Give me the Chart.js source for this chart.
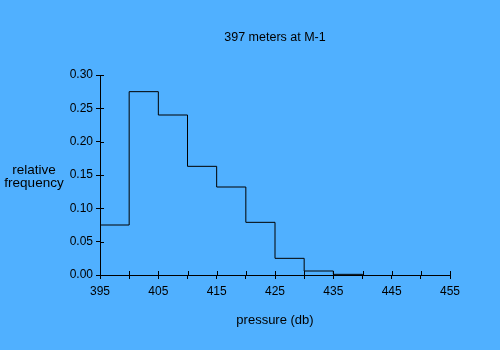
<!DOCTYPE html>
<html>
<head>
<meta charset="utf-8">
<script src="https://cdn.jsdelivr.net/npm/chart.js@4"></script>
<style>
  html, body { margin: 0; padding: 0; background: #50b0ff; }
  #wrap { width: 500px; height: 350px; }
</style>
</head>
<body>
<div id="wrap"><canvas id="histChart" width="500" height="350"></canvas></div>
<script>
// histogram bins (left edges, width 5 db) and relative frequency of each bin
const binEdges = [395, 400, 405, 410, 415, 420, 425, 430, 435, 440];
const relFreq = [0.075, 0.275, 0.24, 0.163, 0.132, 0.079, 0.025, 0.006, 0.001];
const xLabels = [395, 405, 415, 425, 435, 445, 455];
const yTicks = [0, 0.05, 0.10, 0.15, 0.20, 0.25, 0.30];

const chartTitle = '397 meters at M-1';
const xTitle = 'pressure (db)';
const yTitle = ['relative', 'frequency'];

const SANS = '"Liberation Sans", Arial, sans-serif';

// step outline: one point per bin edge, last edge drops back to zero
const stepPoints = binEdges.map((x, i) => ({ x: x, y: i < relFreq.length ? relFreq[i] : 0 }));

// ticks cross the axis: Chart.js draws the outer half, this adds the inner half + texts
const extras = {
  id: 'extras',
  afterDraw(c) {
    const ctx = c.ctx;
    const a = c.chartArea;
    const xs = c.scales.x, ys = c.scales.y;
    ctx.save();
    ctx.strokeStyle = '#000';
    ctx.lineWidth = 1;
    ctx.beginPath();
    xs.ticks.forEach(t => {
      const px = Math.round(xs.getPixelForValue(t.value)) + 0.5;
      ctx.moveTo(px, a.bottom - 4);
      ctx.lineTo(px, a.bottom);
    });
    ys.ticks.forEach(t => {
      const py = Math.round(ys.getPixelForValue(t.value)) + 0.5;
      ctx.moveTo(a.left, py);
      ctx.lineTo(a.left + 4, py);
    });
    ctx.stroke();

    ctx.fillStyle = '#000';
    ctx.textBaseline = 'middle';
    ctx.textAlign = 'center';
    const cx = (a.left + a.right) / 2;
    ctx.font = '12.5px ' + SANS;
    ctx.fillText(chartTitle, cx, a.top - 37);
    ctx.font = '13px ' + SANS;
    ctx.fillText(xTitle, cx, a.bottom + 45);
    ctx.font = '13.5px ' + SANS;
    const cy = (a.top + a.bottom) / 2;
    ctx.fillText(yTitle[0], 34, cy - 5);
    ctx.fillText(yTitle[1], 34, cy + 8);
    ctx.restore();
  }
};

new Chart(document.getElementById('histChart'), {
  type: 'line',
  data: {
    datasets: [{
      data: stepPoints,
      // horizontal at the bin's own height, then vertical to the next bin
      stepped: 'before',
      borderColor: '#000',
      borderWidth: 1,
      pointRadius: 0,
      fill: false,
      clip: false
    }]
  },
  options: {
    responsive: false,
    animation: false,
    layout: { padding: { left: 60, right: 50, top: 75, bottom: 55 } },
    plugins: {
      legend: { display: false },
      title: { display: false },
      tooltip: { enabled: false }
    },
    scales: {
      x: {
        type: 'linear',
        min: 395,
        max: 455,
        afterFit: s => { s.height = 20; },
        border: { color: '#000', width: 1 },
        grid: { drawOnChartArea: false, drawTicks: true, tickLength: 4, color: '#000' },
        ticks: {
          stepSize: 5,
          color: '#000',
          font: { family: SANS, size: 12 },
          padding: 5,
          maxRotation: 0,
          autoSkip: false,
          callback: v => xLabels.includes(v) ? String(v) : ''
        }
      },
      y: {
        min: 0,
        max: 0.3,
        afterFit: s => { s.width = 40; },
        afterBuildTicks: s => { s.ticks = yTicks.map(v => ({ value: v })); },
        border: { color: '#000', width: 1 },
        grid: { drawOnChartArea: false, drawTicks: true, tickLength: 4, color: '#000' },
        ticks: {
          color: '#000',
          font: { family: SANS, size: 12 },
          padding: 3,
          callback: v => v.toFixed(2)
        }
      }
    }
  },
  plugins: [extras]
});
</script>
</body>
</html>
